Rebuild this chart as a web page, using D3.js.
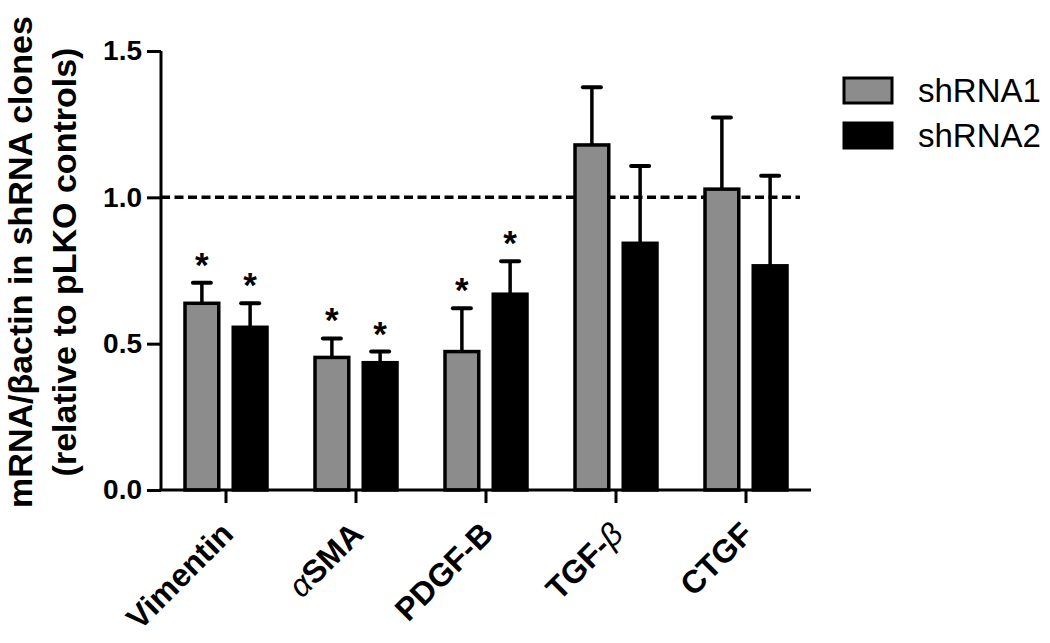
<!DOCTYPE html>
<html>
<head>
<meta charset="utf-8">
<script src="https://cdn.jsdelivr.net/npm/d3@7"></script>
<style>
  body { margin: 0; background: #fff; }
  svg { display: block; font-family: "Liberation Sans", Arial, Helvetica, sans-serif; }
</style>
</head>
<body>
<svg id="chart" width="1050" height="643"></svg>
<script>
// values (mean and upper SEM per gene)
const genes = ["Vimentin", "\u03b1SMA", "PDGF-B", "TGF-\u03b2", "CTGF"];
const seriesNames = ["shRNA1", "shRNA2"];
const shRNA1Mean = [0.638, 0.453, 0.473, 1.179, 1.028];
const shRNA1Err = [0.070, 0.065, 0.148, 0.197, 0.245];
const shRNA2Mean = [0.556, 0.435, 0.669, 0.843, 0.766];
const shRNA2Err = [0.082, 0.038, 0.113, 0.264, 0.308];
const shRNA1Star = [true, true, true, false, false];
const shRNA2Star = [true, true, true, false, false];
const yTicks = [0, 0.5, 1.0, 1.5];
const refLine = 1.0;

const fills = { shRNA1: "#8c8c8c", shRNA2: "#000000" };

let rows = [];
genes.forEach(function(g, i) {
    rows.push({ gene: g, series: "shRNA1", mean: shRNA1Mean[i], err: shRNA1Err[i], star: shRNA1Star[i] });
    rows.push({ gene: g, series: "shRNA2", mean: shRNA2Mean[i], err: shRNA2Err[i], star: shRNA2Star[i] });
});

const svg = d3.select("#chart");
const plotLeft = 161, plotRight = 811, plotTop = 51, plotBottom = 490;

const x0 = d3.scaleBand().domain(genes).range([plotLeft, plotRight]).paddingInner(0).paddingOuter(0);
const x1 = d3.scaleBand().domain(seriesNames).range([-41, 41]).paddingInner(0.3).paddingOuter(0);
const y = d3.scaleLinear().domain([0, 1.5]).range([plotBottom, plotTop]);

function barLeft(d) { return x0(d.gene) + x0.bandwidth() / 2 + x1(d.series); }
function barMid(d) { return barLeft(d) + x1.bandwidth() / 2; }

// dashed reference line at 1.0 (drawn under the bars)
svg.append("line")
    .attr("x1", plotLeft).attr("x2", 800)
    .attr("y1", y(refLine)).attr("y2", y(refLine))
    .attr("stroke", "#000").attr("stroke-width", 3.5)
    .attr("stroke-dasharray", "9,4.5");

// error bars (upper only)
let errs = svg.append("g");
errs.selectAll("line.stem").data(rows).join("line")
    .attr("class", "stem")
    .attr("x1", barMid).attr("x2", barMid)
    .attr("y1", d => y(d.mean)).attr("y2", d => y(d.mean + d.err))
    .attr("stroke", "#000").attr("stroke-width", 3.5);
errs.selectAll("line.cap").data(rows).join("line")
    .attr("class", "cap")
    .attr("x1", d => barMid(d) - 9).attr("x2", d => barMid(d) + 9)
    .attr("y1", d => y(d.mean + d.err)).attr("y2", d => y(d.mean + d.err))
    .attr("stroke", "#000").attr("stroke-width", 4).attr("stroke-linecap", "round");

// bars
svg.append("g").selectAll("rect").data(rows).join("rect")
    .attr("x", barLeft)
    .attr("y", d => y(d.mean))
    .attr("width", x1.bandwidth())
    .attr("height", d => y(0) - y(d.mean))
    .attr("fill", d => fills[d.series])
    .attr("stroke", "#000").attr("stroke-width", 3.5);

// significance stars
svg.append("g").selectAll("text").data(rows.filter(d => d.star)).join("text")
    .attr("x", barMid)
    .attr("y", d => y(d.mean + d.err) - 6)
    .attr("text-anchor", "middle")
    .attr("font-size", 35).attr("font-weight", "bold")
    .text("*");

// y axis
let yAxis = svg.append("g")
    .attr("transform", "translate(" + plotLeft + ",0)")
    .call(d3.axisLeft(y).tickValues(yTicks).tickFormat(d3.format(".1f")).tickSize(14).tickPadding(5));
yAxis.select(".domain").attr("stroke-width", 3).attr("d", "M0," + plotTop + "V" + plotBottom);
yAxis.selectAll(".tick line").attr("stroke-width", 3);
yAxis.selectAll(".tick text")
    .attr("font-size", 28).attr("font-weight", "bold")
    .attr("font-family", "'Liberation Sans', Arial, sans-serif").attr("fill", "#000");

// x axis
let xAxis = svg.append("g")
    .attr("transform", "translate(0," + plotBottom + ")")
    .call(d3.axisBottom(x0).tickSize(13).tickFormat(""));
xAxis.select(".domain").attr("stroke-width", 3).attr("d", "M" + (plotLeft - 1.5) + ",0H" + plotRight);
xAxis.selectAll(".tick line").attr("stroke-width", 3);

let xLabels = svg.append("g").selectAll("text").data(genes).join("text")
    .attr("transform", d => "translate(" + (x0(d) + x0.bandwidth() / 2 + 9) + "," + (plotBottom + 46) + ") rotate(-45)")
    .attr("text-anchor", "end")
    .attr("font-size", 32).attr("font-weight", "bold");
// greek letters are set in italic, like a symbol font
xLabels.each(function(d) {
    let t = d3.select(this);
    d.split(/([\u03b1\u03b2])/).forEach(function(part) {
        if (part === "") return;
        let sp = t.append("tspan").text(part);
        if (/[\u03b1\u03b2]/.test(part)) sp.attr("font-style", "italic").attr("font-weight", "normal");
    });
});

// y title, two lines
let yTitle = svg.append("text")
    .attr("transform", "translate(32,262) rotate(-90)")
    .attr("text-anchor", "middle")
    .attr("font-size", 34).attr("font-weight", "bold");
yTitle.append("tspan").attr("x", 0).attr("dy", 0).text("mRNA/\u03b2actin in shRNA clones");
yTitle.append("tspan").attr("x", 0).attr("dy", 44).text("(relative to pLKO controls)");

// legend
let legend = svg.append("g").selectAll("g").data(seriesNames).join("g")
    .attr("transform", (d, i) => "translate(844," + (78 + i * 45) + ")");
legend.append("rect")
    .attr("width", 48).attr("height", 25)
    .attr("fill", d => fills[d])
    .attr("stroke", "#000").attr("stroke-width", 3);
legend.append("text")
    .attr("x", 74).attr("y", 24)
    .attr("font-size", 33)
    .text(d => d);
</script>
</body>
</html>
